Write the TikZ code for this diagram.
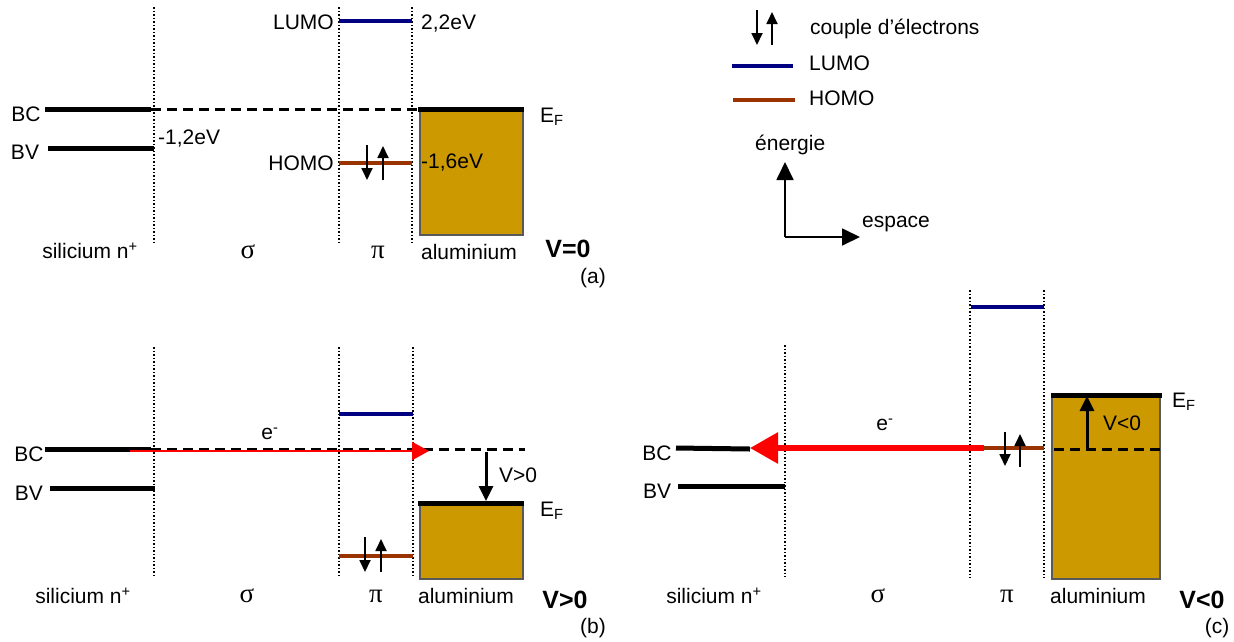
\documentclass[tikz,border=0pt]{standalone}
\usepackage{fontspec}
\setmainfont{Liberation Sans}
\newfontfamily\greekfont{Liberation Serif}
\usetikzlibrary{arrows.meta}
\definecolor{alucolor}{HTML}{CC9900}
\definecolor{lumocolor}{HTML}{000080}
\definecolor{homocolor}{HTML}{993300}
\tikzset{
    lbl/.style={inner sep=0pt,font=\fontsize{21}{25}\selectfont},
    grk/.style={inner sep=0pt,font=\fontsize{27}{30}\greekfont},
    bld/.style={inner sep=0pt,font=\fontsize{25}{28}\selectfont\bfseries},
    sep/.style={line width=1.5pt,dash pattern=on 1.5pt off 2pt},
    band/.style={line width=5pt},
    lumo/.style={line width=4pt,lumocolor},
    homo/.style={line width=3.5pt,homocolor},
    alu/.style={fill=alucolor,draw=black!65,line width=1.5pt},
    dashline/.style={line width=3pt,dash pattern=on 10pt off 6pt},
    spin/.style={line width=1.8pt,-{Triangle[length=12pt,width=11pt]}},
    bias/.style={line width=3pt,-{Triangle[length=15pt,width=14pt]}},
    axis/.style={line width=1.8pt,-{Triangle[length=18pt,width=17pt]}},
}
\begin{document}
\begin{tikzpicture}[x=1pt,y=-1pt]
    \useasboundingbox (0,0) rectangle (1234,641);

    % panel a
    \foreach \x in {154,339,412} \draw[sep] (\x,7) -- (\x,242);
    \draw[dashline] (151,109) -- (418,109);
    \draw[band] (45,109) -- (151,109);
    \draw[band] (48,148) -- (154,148);
    \draw[lumo] (339,21) -- (412,21);
    \draw[homo] (339,163) -- (412,163);
    \path[alu] (420,109) rectangle (523,235);
    \draw[band] (418,109) -- (524,109);
    \node (abc) [lbl] at (26,114) {BC};
    \node (abv) [lbl] at (25,152) {BV};
    \node (asi) [lbl] at (90,251) {silicium n\textsuperscript{+}};
    \node (asigma) [grk] at (248,252) {σ};
    \node (api) [grk] at (378,252) {π};
    \node (aal) [lbl] at (469,252) {aluminium};
    \node (alumo) [lbl,anchor=east] at (334,22) {LUMO};
    \node (ahomo) [lbl,anchor=east] at (334,163) {HOMO};
    \node (alevel) [lbl,anchor=west] at (421,24) {2,2eV};
    \node (ahlevel) [lbl,anchor=west] at (421,163) {-1,6eV};
    \node (agap) [lbl,anchor=west] at (158,139) {-1,2eV};
    \node (aef) [lbl,anchor=west] at (540,117) {E\textsubscript{F}};
    \node (av) [bld] at (568,249) {V=0};
    \node (atag) [lbl] at (593,278) {(a)};

    % panel b
    \foreach \x in {154,339,413} \draw[sep] (\x,347) -- (\x,578);
    \draw[dashline] (151,449) -- (525,449);
    \draw[band] (45,449) -- (151,449);
    \draw[band] (50,488) -- (155,488);
    \draw[lumo] (339,414) -- (413,414);
    \draw[homo] (339,556) -- (413,556);
    \path[alu] (420,503) rectangle (523,579);
    \draw[band] (418,503) -- (524,503);
    \node (bbc) [lbl] at (29,454) {BC};
    \node (bbv) [lbl] at (29,493) {BV};
    \node (bsi) [lbl] at (83,596) {silicium n\textsuperscript{+}};
    \node (bsigma) [grk] at (247,596) {σ};
    \node (bpi) [grk] at (376,596) {π};
    \node (bal) [lbl] at (466,596) {aluminium};
    \node (be) [lbl] at (270,434) {e\textsuperscript{-}};
    \node (bbias) [lbl] at (518,475) {V>0};
    \node (bef) [lbl,anchor=west] at (540,511) {E\textsubscript{F}};
    \node (bv) [bld] at (565,600) {V>0};
    \node (btag) [lbl] at (593,628) {(b)};
    \coordinate (bfrom) at (130,451);
    \coordinate (bto) at (429,451);
    \draw[red,line width=2pt,-{Triangle[length=17pt,width=18pt]}] (bfrom) -- (bto);
    \coordinate (bvtop) at (486,452);
    \coordinate (bvend) at (486,501);
    \draw[bias] (bvtop) -- (bvend);

    % panel c
    \draw[sep] (785,345) -- (785,577);
    \foreach \x in {970,1044} \draw[sep] (\x,290) -- (\x,578);
    \draw[band] (676,448) -- (750,449);
    \draw[band] (678,486) -- (785,486);
    \draw[lumo] (971,307) -- (1044,307);
    \draw[homo] (971,448) -- (1044,448);
    \path[alu] (1052,395) rectangle (1160,579);
    \draw[band] (1051,395) -- (1162,395);
    \draw[dashline] (1054,449) -- (1164,449);
    \node (cbc) [lbl] at (657,453) {BC};
    \node (cbv) [lbl] at (657,491) {BV};
    \node (csi) [lbl] at (714,596) {silicium n\textsuperscript{+}};
    \node (csigma) [grk] at (878,596) {σ};
    \node (cpi) [grk] at (1007,596) {π};
    \node (cal) [lbl] at (1098,596) {aluminium};
    \node (ce) [lbl] at (885,425) {e\textsuperscript{-}};
    \node (cbias) [lbl] at (1122,423) {V<0};
    \node (cef) [lbl,anchor=west] at (1172,402) {E\textsubscript{F}};
    \node (cv) [bld] at (1202,600) {V<0};
    \node (ctag) [lbl] at (1217,628) {(c)};
    \coordinate (cfrom) at (984,448);
    \coordinate (cto) at (750,448);
    \draw[red,line width=6pt,-{Triangle[length=28pt,width=30pt]}] (cfrom) -- (cto);
    \coordinate (cvbot) at (1087,449);
    \coordinate (cvend) at (1087,396);
    \draw[bias] (cvbot) -- (cvend);

    % electron pairs
    \foreach \x/\top/\bot in {367/145/180,365/537/572,1005/432/466,757/10/45}
        \draw[spin] (\x,\top) -- (\x,\bot);
    \foreach \x/\top/\bot in {383/146/180,381/539/572,1020/434/467,772/12/45}
        \draw[spin] (\x,\bot) -- (\x,\top);

    % legend
    \node (lpair) [lbl,anchor=west] at (810,29) {couple d’électrons};
    \draw[lumo] (732,66) -- (793,66);
    \node (llumo) [lbl,anchor=west] at (809,63) {LUMO};
    \draw[homo] (733,100) -- (795,100);
    \node (lhomo) [lbl,anchor=west] at (809,98) {HOMO};
    \node (lenergy) [lbl,anchor=west] at (755,145) {énergie};
    \node (lspace) [lbl,anchor=west] at (862,224) {espace};
    \coordinate (lorig) at (785,237);
    \coordinate (lup) at (785,162);
    \coordinate (lright) at (860,237);
    \draw[axis] (lorig) -- (lup);
    \draw[axis] (lorig) -- (lright);
\end{tikzpicture}
\end{document}
